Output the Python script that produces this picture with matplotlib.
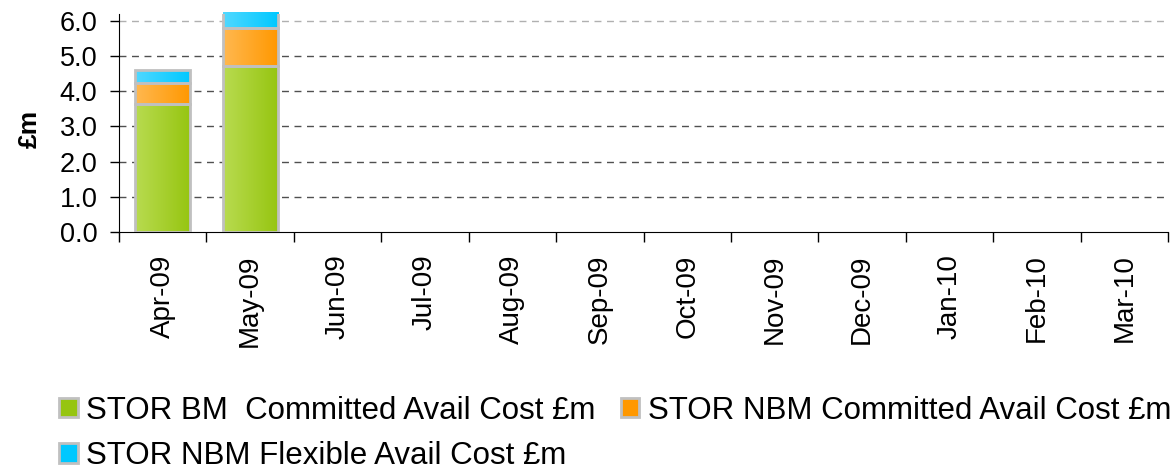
import numpy as np
import matplotlib
matplotlib.use("Agg")
import matplotlib.pyplot as plt
from matplotlib.patches import Rectangle, Patch
from matplotlib.colors import LinearSegmentedColormap

plt.rcParams["font.family"] = ["Liberation Sans", "DejaVu Sans"]

# data (£m)
months = ["Apr-09", "May-09", "Jun-09", "Jul-09", "Aug-09", "Sep-09",
          "Oct-09", "Nov-09", "Dec-09", "Jan-10", "Feb-10", "Mar-10"]
bm_committed = [3.65, 4.72, 0, 0, 0, 0, 0, 0, 0, 0, 0, 0]
nbm_committed = [0.58, 1.08, 0, 0, 0, 0, 0, 0, 0, 0, 0, 0]
nbm_flexible = [0.37, 0.45, 0, 0, 0, 0, 0, 0, 0, 0, 0, 0]
series_names = ["STOR BM  Committed Avail Cost £m",
                "STOR NBM Committed Avail Cost £m",
                "STOR NBM Flexible Avail Cost £m"]
yticks = [0, 1, 2, 3, 4, 5, 6]

# gradient colours (left -> right)
GRADS = [("#b8db50", "#96c510"), ("#ffb850", "#ff9800"), ("#50d8ff", "#00c8ff")]
EDGE = "#c0c0c0"
BAR_W = 0.63
YMAX = 6.2

fig = plt.figure(figsize=(11.76, 4.72), dpi=100)
ax = fig.add_axes([0.1012, 0.5085, 0.8920, 0.4623])

x = np.arange(len(months))
bottoms = np.zeros(len(months))
grad = np.linspace(0, 1, 64).reshape(1, -1)
for vals, (c0, c1) in zip([bm_committed, nbm_committed, nbm_flexible], GRADS):
    cmap = LinearSegmentedColormap.from_list("g", [c0, c1])
    for xi, v, b in zip(x, vals, bottoms):
        if v <= 0:
            continue
        rect = Rectangle((xi - BAR_W / 2, b), BAR_W, v, facecolor="none",
                         edgecolor=EDGE, linewidth=2.0, zorder=3)
        ax.add_patch(rect)
        im = ax.imshow(grad, cmap=cmap, aspect="auto", zorder=2,
                       extent=(xi - BAR_W / 2, xi + BAR_W / 2, b, b + v))
        im.set_clip_path(rect)
    bottoms += np.array(vals)

ax.set_xlim(-0.5, len(months) - 0.5)
ax.set_ylim(0, YMAX)

# dashed gridlines at the ticks
for yv in yticks[1:]:
    col = "#b0b0b0" if yv == yticks[-1] else "#505050"
    ax.axhline(yv, color=col, linestyle=(0, (5, 4)), linewidth=1.0, zorder=1)

ax.set_yticks(yticks)
ax.set_yticklabels([f"{v:.1f}" for v in yticks], fontsize=19.5)
ax.tick_params(axis="y", direction="out", length=6.5, width=1, pad=9)

ax.set_xticks(x)
ax.set_xticklabels(months, rotation=90, fontsize=20)
ax.tick_params(axis="x", which="major", length=0, pad=16)
ax.set_xticks(np.arange(len(months) + 1) - 0.5, minor=True)
ax.tick_params(axis="x", which="minor", direction="out", length=7.2, width=1)

for s in ["top", "right"]:
    ax.spines[s].set_visible(False)
ax.spines["left"].set_color("black")
ax.spines["bottom"].set_color("black")

ax.set_ylabel("£m", fontsize=19, fontweight="bold")
ax.yaxis.set_label_coords(-0.074, 0.47)

handles = [Patch(facecolor=c1, edgecolor=EDGE, linewidth=2.0) for _, c1 in GRADS]
# column-major fill: BM, Flexible in col 1; NBM committed in col 2
order = [0, 2, 1]
fig.legend([handles[i] for i in order], [series_names[i] for i in order],
           loc="upper left", bbox_to_anchor=(0.050, 0.162), ncol=2,
           frameon=False, fontsize=22.5, handlelength=0.6, handleheight=0.6,
           handletextpad=0.28, columnspacing=0.8, labelspacing=0.5,
           borderaxespad=0, borderpad=0)

fig.savefig("out.png", dpi=100)
